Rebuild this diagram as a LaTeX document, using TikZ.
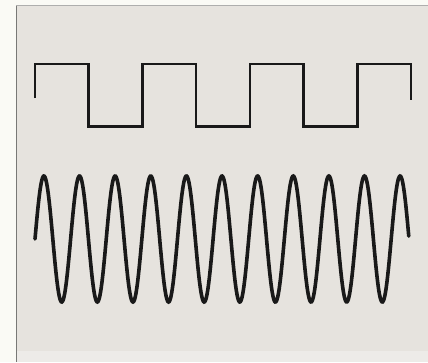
\documentclass[tikz,border=0pt]{standalone}
\begin{document}
\begin{tikzpicture}[x=1pt,y=-1pt,
  wave/.style={draw=black!90, line join=miter},
  sq/.style={wave, line width=2.6pt},
  sn/.style={wave, line width=3.6pt, line cap=round}]
\definecolor{paper}{RGB}{230,227,222}
\definecolor{margin}{RGB}{250,250,245}
\definecolor{edge}{RGB}{120,120,118}
\useasboundingbox (0,0) rectangle (428,362);
\fill[margin] (0,0) rectangle (428,362);
\fill[paper] (16,5) rectangle (428,362);
\fill[paper!70!white] (16,351) rectangle (428,362);
\draw[edge, line width=0.8pt] (16.5,5) -- (16.5,362);
\draw[edge!60, line width=0.6pt] (16,5.5) -- (428,5.5);
% square wave
\draw[sq] (35,98) -- (35,64) -- (88.7,64) -- (88.7,126.5) -- (142.4,126.5)
  -- (142.4,64) -- (196.1,64) -- (196.1,126.5) -- (249.8,126.5)
  -- (249.8,64) -- (303.6,64) -- (303.6,126.5) -- (357.3,126.5)
  -- (357.3,64) -- (411,64) -- (411,100);
% sine wave
\draw[sn] plot[domain=0:10.5,samples=600,smooth] ({35+35.62*\x},{239-63*sin(360*\x)});
\end{tikzpicture}
\end{document}
